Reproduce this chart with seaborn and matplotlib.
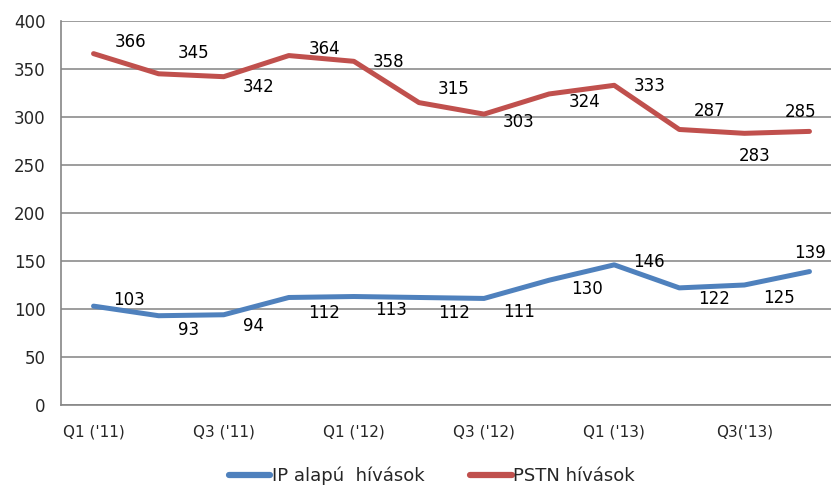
import pandas as pd
import numpy as np
import matplotlib
matplotlib.use("Agg")
import matplotlib.pyplot as plt
import seaborn as sns

# adatok (negyedévek, hívások)
quarters = ["Q1 ('11)", "Q2 ('11)", "Q3 ('11)", "Q4 ('11)",
            "Q1 ('12)", "Q2 ('12)", "Q3 ('12)", "Q4 ('12)",
            "Q1 ('13)", "Q2 ('13)", "Q3('13)", "Q4('13)"]
ip_calls = [103, 93, 94, 112, 113, 112, 111, 130, 146, 122, 125, 139]
pstn_calls = [366, 345, 342, 364, 358, 315, 303, 324, 333, 287, 283, 285]
series_names = ["IP alapú  hívások", "PSTN hívások"]

# címkék eltolása pixelben (dx, dy) - csak megjelenés
ip_offsets = [(35, 6), (30, -14), (30, -11), (35, -16), (37, -13), (35, -16),
              (35, -14), (38, -9), (35, 3), (35, -11), (35, -13), (1, 19)]
pstn_offsets = [(37, 12), (35, 21), (35, -10), (36, 7), (35, -1), (35, 14),
                (35, -8), (35, -8), (35, -1), (30, 18), (10, -23), (-9, 19)]

df = pd.DataFrame({
    'x': list(range(len(quarters))) * 2,
    'value': ip_calls + pstn_calls,
    'series': [series_names[0]] * len(quarters) + [series_names[1]] * len(quarters),
})

sns.set_style("white")
plt.rcParams['font.family'] = ['DejaVu Sans']

fig = plt.figure(figsize=(8.31, 4.88), dpi=100)
ax = fig.add_axes([61 / 831, 83 / 488, 781 / 831, 384 / 488])

colors = {series_names[0]: '#4F81BD', series_names[1]: '#C0504D'}
sns.lineplot(data=df, x='x', y='value', hue='series', palette=colors,
             linewidth=3.6, ax=ax, legend=True, zorder=3)

# adatcímkék
for vals, offs in [(ip_calls, ip_offsets), (pstn_calls, pstn_offsets)]:
    for i, (v, (dx, dy)) in enumerate(zip(vals, offs)):
        ax.annotate(str(v), (i, v), xytext=(dx, dy), textcoords='offset pixels',
                    ha='center', va='center', fontsize=12, color='black')

ax.set_xlim(-0.5, len(quarters) - 0.5)
ax.set_ylim(0, 400)
ax.set_yticks(range(0, 401, 50))
ax.set_xticks(np.arange(-0.5, len(quarters), 1.0))
ax.set_xticklabels([])
ax.set_xticks(range(0, len(quarters), 2), minor=True)
ax.set_xticklabels(quarters[::2], minor=True, fontsize=11)
ax.tick_params(axis='x', which='major', direction='out', length=5, width=1, color='#868686')
ax.tick_params(axis='x', which='minor', length=0, pad=14)
ax.tick_params(axis='y', direction='out', length=5, width=1, color='#868686', labelsize=12, pad=6)
ax.set_xlabel('')
ax.set_ylabel('')

ax.grid(True, axis='y', color='#8c8c8c', linewidth=1.2)
ax.set_axisbelow(True)
for s in ['top', 'right']:
    ax.spines[s].set_visible(False)
for s in ['left', 'bottom']:
    ax.spines[s].set_color('#868686')
    ax.spines[s].set_linewidth(1.2)

leg = ax.legend(loc='center', bbox_to_anchor=(432 / 831, 12 / 488),
                bbox_transform=fig.transFigure, ncol=2, frameon=False,
                prop={'size': 13}, handlelength=2.3,
                handletextpad=0.1, columnspacing=2.5)
for h in leg.get_lines():
    h.set_solid_capstyle('round')
    h.set_linewidth(4.5)

fig.savefig('out.png', dpi=100)
